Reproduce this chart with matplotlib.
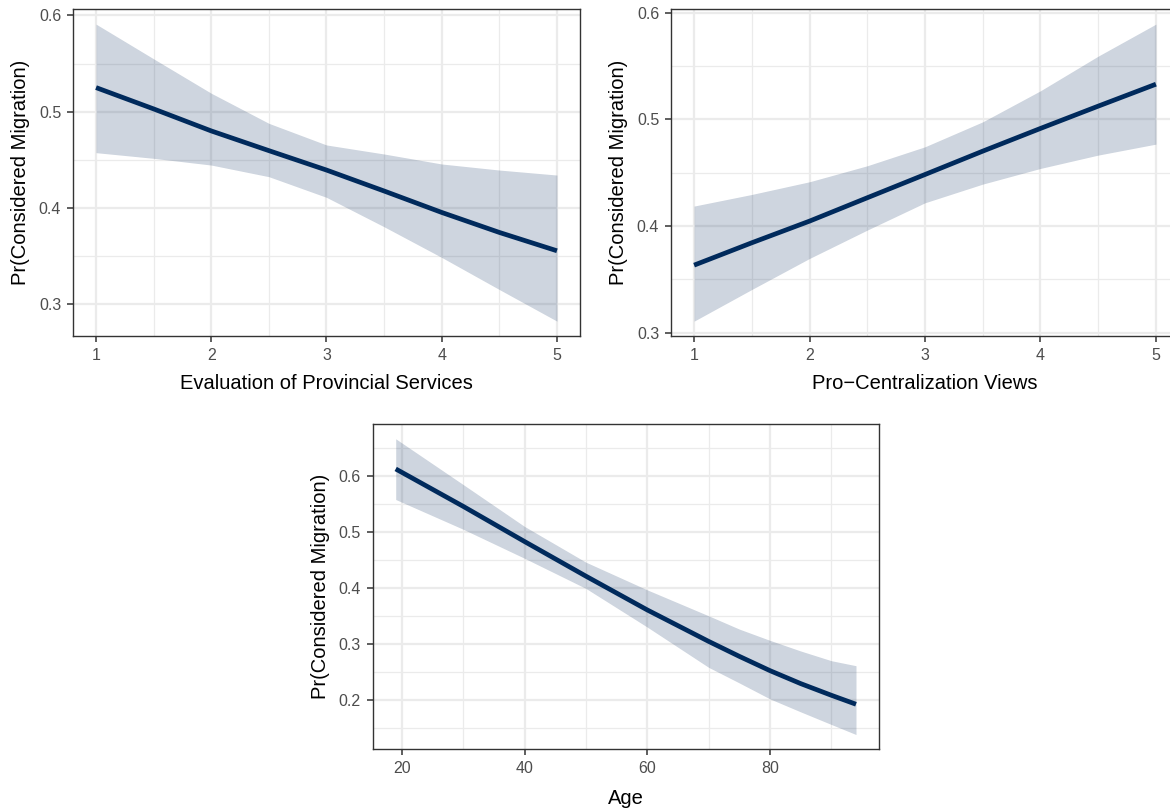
import matplotlib
matplotlib.use("Agg")
import matplotlib.pyplot as plt
from matplotlib.ticker import FixedLocator

plt.rcParams['font.family'] = ['Liberation Sans', 'DejaVu Sans']

# ---- Data ----
eval_x = [1, 1.5, 2, 2.5, 3, 3.5, 4, 4.5, 5]
eval_fit = [0.525, 0.5028, 0.4799, 0.4594, 0.4392, 0.4174, 0.3951, 0.3743, 0.3552]
eval_upper = [0.591, 0.5549, 0.5191, 0.4878, 0.4653, 0.4559, 0.4455, 0.4392, 0.434]
eval_lower = [0.4573, 0.4514, 0.4444, 0.4323, 0.4108, 0.3802, 0.3483, 0.3149, 0.282]

cent_x = [1, 1.5, 2, 2.5, 3, 3.5, 4, 4.5, 5]
cent_fit = [0.3634, 0.3844, 0.4047, 0.4266, 0.4484, 0.4703, 0.4916, 0.5125, 0.5331]
cent_upper = [0.4188, 0.4297, 0.4416, 0.4566, 0.4744, 0.4978, 0.5269, 0.5594, 0.5894]
cent_lower = [0.3109, 0.3406, 0.3697, 0.3963, 0.4219, 0.4394, 0.4541, 0.4666, 0.4769]

age_x = [19, 30, 40, 50, 60, 70, 75, 80, 85, 90, 94]
age_fit = [0.613, 0.546, 0.483, 0.421, 0.3605, 0.3042, 0.2774, 0.2518, 0.2286, 0.2077, 0.1917]
age_upper = [0.667, 0.585, 0.510, 0.446, 0.3964, 0.350, 0.3262, 0.306, 0.2870, 0.2696, 0.2607]
age_lower = [0.5583, 0.505, 0.453, 0.399, 0.3298, 0.2577, 0.2298, 0.2012, 0.1780, 0.1554, 0.1375]

ylabel_text = "Pr(Considered Migration)"

LINE_COL = '#002A5C'
FILL_COL = '#0A2D5F'
GRID_COL = '#EBEBEB'
DARK = '#333333'
TICK_COL = '#4D4D4D'

fig = plt.figure(figsize=(11.7, 8.09), dpi=100)
W, H = 1170, 809

def make_panel(rect_px, x, fit, lo, hi, xlabel, xmajor, xminor, ymajor, yminor):
    l, t, r, b = rect_px
    ax = fig.add_axes([l / W, 1 - b / H, (r - l) / W, (b - t) / H])
    xr = max(x) - min(x)
    ax.set_xlim(min(x) - 0.05 * xr, max(x) + 0.05 * xr)
    ymin, ymax = min(lo), max(hi)
    yr = ymax - ymin
    ax.set_ylim(ymin - 0.05 * yr, ymax + 0.05 * yr)
    ax.fill_between(x, lo, hi, color=FILL_COL, alpha=0.2, linewidth=0, zorder=2)
    ax.plot(x, fit, color=LINE_COL, linewidth=3.4, solid_capstyle='butt',
            solid_joinstyle='round', zorder=3)
    ax.xaxis.set_major_locator(FixedLocator(xmajor))
    ax.xaxis.set_minor_locator(FixedLocator(xminor))
    ax.yaxis.set_major_locator(FixedLocator(ymajor))
    ax.yaxis.set_minor_locator(FixedLocator(yminor))
    ax.set_axisbelow(True)
    ax.grid(which='major', color=GRID_COL, linewidth=1.6, zorder=0)
    ax.grid(which='minor', color=GRID_COL, linewidth=0.9, zorder=0)
    for s in ax.spines.values():
        s.set_color(DARK)
        s.set_linewidth(1.0)
    ax.tick_params(which='major', length=4.5, width=1.1, color=DARK,
                   labelsize=11.5, labelcolor=TICK_COL, pad=4.0)
    ax.tick_params(which='minor', length=0)
    ax.set_xticklabels([str(v) for v in xmajor])
    ax.set_yticklabels(["%.1f" % v for v in ymajor])
    ax.set_xlabel(xlabel, fontsize=14.5, color='black')
    ax.set_ylabel(ylabel_text, fontsize=14.5, color='black')
    wpx = r - l
    hpx = b - t
    ax.yaxis.set_label_coords(-(53 - 9.8) / wpx, 0.5)
    return ax, hpx

ax1, h1 = make_panel((73, 9.3, 580, 336), eval_x, eval_fit, eval_lower, eval_upper,
                     "Evaluation of Provincial Services",
                     [1, 2, 3, 4, 5], [1.5, 2.5, 3.5, 4.5],
                     [0.3, 0.4, 0.5, 0.6], [0.35, 0.45, 0.55])
ax1.xaxis.set_label_coords(0.5, -(374 - 336) / h1)

ax2, h2 = make_panel((671, 9.3, 1179, 336), cent_x, cent_fit, cent_lower, cent_upper,
                     "Pro\u2212Centralization Views",
                     [1, 2, 3, 4, 5], [1.5, 2.5, 3.5, 4.5],
                     [0.3, 0.4, 0.5, 0.6], [0.35, 0.45, 0.55])
ax2.xaxis.set_label_coords(0.5, -(374 - 336) / h2)

ax3, h3 = make_panel((372.7, 424, 879, 749.3), age_x, age_fit, age_lower, age_upper,
                     "Age",
                     [20, 40, 60, 80], [30, 50, 70, 90],
                     [0.2, 0.3, 0.4, 0.5, 0.6], [0.15, 0.25, 0.35, 0.45, 0.55, 0.65])
ax3.xaxis.set_label_coords(0.5, -(789.5 - 749.3) / h3)

fig.savefig("out.png", dpi=100, facecolor='white')
